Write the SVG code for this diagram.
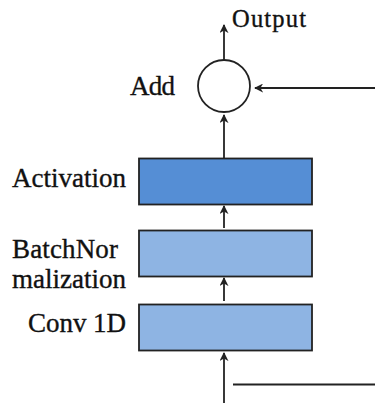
<svg xmlns="http://www.w3.org/2000/svg" width="375" height="403" viewBox="0 0 375 403">
<style>
.lbl{font-family:"Liberation Serif","Times New Roman",serif;font-size:27px;fill:#111;stroke:#111;stroke-width:0.35}
.box{stroke:#222;stroke-width:1.8}
.ln{stroke:#222;stroke-width:1.8;fill:none}
</style>
<defs>
<marker id="ah" viewBox="0 0 10 10" refX="9" refY="5" markerWidth="9" markerHeight="9" markerUnits="userSpaceOnUse" orient="auto">
<path d="M0,0 L10,5 L0,10 L3,5 z" fill="#222"/>
</marker>
</defs>
<rect width="375" height="403" fill="#fff"/>
<g id="connectors">
<line class="ln" x1="224" y1="403" x2="224" y2="353" marker-end="url(#ah)"/>
<line class="ln" x1="233" y1="384.5" x2="375" y2="384.5"/>
<line class="ln" x1="224" y1="301" x2="224" y2="278" marker-end="url(#ah)"/>
<line class="ln" x1="224" y1="228" x2="224" y2="206" marker-end="url(#ah)"/>
<line class="ln" x1="224" y1="158" x2="224" y2="115" marker-end="url(#ah)"/>
<line class="ln" x1="224" y1="60" x2="224" y2="25" marker-end="url(#ah)"/>
<line class="ln" x1="375" y1="88" x2="255" y2="88" marker-end="url(#ah)"/>
</g>
<g id="add">
<circle cx="224" cy="86" r="26" fill="#fff" class="ln"/>
<text class="lbl" x="130" y="95" textLength="45">Add</text>
</g>
<g id="output">
<text class="lbl" x="232" y="27" textLength="74" style="font-size:24.5px">Output</text>
</g>
<g id="activation">
<rect class="box" x="139" y="158.5" width="173" height="46" fill="#558ED5"/>
<text class="lbl" x="12" y="187" textLength="114">Activation</text>
</g>
<g id="batchnorm">
<rect class="box" x="139" y="230.5" width="173" height="46" fill="#8EB4E3"/>
<text class="lbl" x="12" y="258" textLength="106">BatchNor</text>
<text class="lbl" x="12" y="288" textLength="114">malization</text>
</g>
<g id="conv1d">
<rect class="box" x="139" y="304.5" width="173" height="46" fill="#8EB4E3"/>
<text class="lbl" x="126" y="332" text-anchor="end" textLength="98">Conv 1D</text>
</g>
</svg>
